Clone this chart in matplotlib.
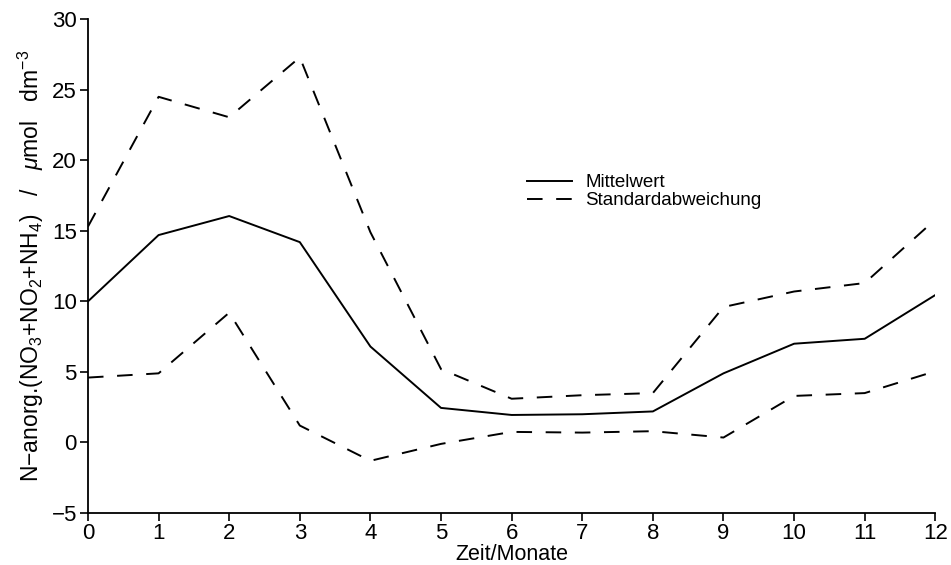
import matplotlib
matplotlib.use("Agg")
from matplotlib import pyplot as plt

plt.rcParams['font.family'] = ['Liberation Sans', 'DejaVu Sans']
plt.rcParams['mathtext.fontset'] = 'custom'
plt.rcParams['mathtext.rm'] = 'Liberation Sans'
plt.rcParams['mathtext.it'] = 'Liberation Sans:italic'

# Monate 0..12
monate = list(range(0, 13))
mittelwert = [10.0, 14.7, 16.05, 14.2, 6.8, 2.45, 1.95, 2.0, 2.2, 4.9, 7.0, 7.35, 10.45]
obere = [15.3, 24.5, 23.05, 27.3, 14.9, 5.2, 3.1, 3.35, 3.5, 9.6, 10.7, 11.3, 15.8]
untere = [4.6, 4.9, 9.2, 1.2, -1.3, -0.1, 0.75, 0.7, 0.8, 0.35, 3.3, 3.5, 5.05]

fig = plt.figure(figsize=(9.51, 5.65), dpi=100)
ax = fig.add_axes([0.0925, 0.092, 0.891, 0.874])

ax.plot(monate, mittelwert, color='black', lw=1.4, label='Mittelwert')
ax.plot(monate, obere, color='black', lw=1.4, dashes=(8, 7), label='Standardabweichung')
ax.plot(monate, untere, color='black', lw=1.4, dashes=(8, 7))

ax.set_xlim(0, 12)
ax.set_ylim(-5, 30)
ax.set_xticks(range(0, 13))
ax.set_yticks(range(-5, 31, 5))
ax.set_yticklabels(['\u22125', '0', '5', '10', '15', '20', '25', '30'])
ax.spines['top'].set_visible(False)
ax.spines['right'].set_visible(False)
ax.spines['left'].set_linewidth(1.3)
ax.spines['bottom'].set_linewidth(1.3)
ax.tick_params(direction='out', length=6, width=1.2, labelsize=16, pad=2)
ax.tick_params(axis='x', pad=1)

ax.set_xlabel('Zeit/Monate', fontsize=15.5, labelpad=0)
ax.set_ylabel('N\u2212anorg.(NO$_3$+NO$_2$+NH$_4$)   /   $\\mu$mol   dm$^{-3}$',
              fontsize=16.5, labelpad=4)

ax.legend(loc='upper left', bbox_to_anchor=(0.507, 0.705), frameon=False, fontsize=13.5,
          handlelength=2.4, handletextpad=0.7, labelspacing=0.05, borderpad=0)

fig.savefig('out.png', dpi=100)
